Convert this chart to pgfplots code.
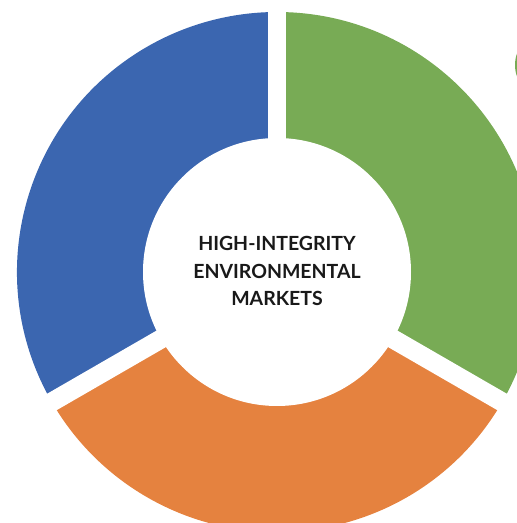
\documentclass[border=0pt]{standalone}
\usepackage{fontspec}
\setmainfont{Lato}
\usepackage{pgfplots}
\usepackage{pgfplotstable}
\pgfplotsset{compat=1.18}

\definecolor{grn}{HTML}{78AB55}
\definecolor{org}{HTML}{E5823F}
\definecolor{blu}{HTML}{3B66B0}

% shares of the ring, clockwise from the top
\pgfplotstableread{
part share
green 1
orange 1
blue 1
}\shares
\pgfplotstablegetelem{0}{share}\of\shares \let\sa\pgfplotsretval
\pgfplotstablegetelem{1}{share}\of\shares \let\sb\pgfplotsretval
\pgfplotstablegetelem{2}{share}\of\shares \let\sc\pgfplotsretval
\pgfmathsetmacro\tot{\sa+\sb+\sc}
\pgfmathsetmacro\aA{90}
\pgfmathsetmacro\aB{90-360*\sa/\tot}
\pgfmathsetmacro\aC{\aB-360*\sb/\tot}
\pgfmathsetmacro\aD{\aC-360*\sc/\tot}

\def\cx{277}\def\cy{251}
\def\R{260pt}\def\r{134pt}

\begin{document}
\begin{tikzpicture}
\begin{axis}[
    x=1pt, y=1pt,
    xmin=0, xmax=517, ymin=0, ymax=523,
    hide axis, clip=true]
  \fill[grn] (axis cs:\cx,\cy) -- ++(\aA:\R) arc[start angle=\aA, end angle=\aB, radius=\R] -- cycle;
  \fill[org] (axis cs:\cx,\cy) -- ++(\aB:\R) arc[start angle=\aB, end angle=\aC, radius=\R] -- cycle;
  \fill[blu] (axis cs:\cx,\cy) -- ++(\aC:\R) arc[start angle=\aC, end angle=\aD, radius=\R] -- cycle;
  \fill[white] (axis cs:\cx,\cy) circle[radius=\r];
  \draw[white, line width=18pt] (axis cs:\cx,\cy) -- ++(\aA:300pt);
  \draw[white, line width=19pt] (axis cs:\cx,\cy) -- ++(\aB:300pt);
  \draw[white, line width=19pt] (axis cs:\cx,\cy) -- ++(\aC:300pt);
  % edge of a neighbouring ring, just visible at the top right
  \fill[grn] (axis cs:549,458) circle[radius=34pt];
  \node[align=center, font=\fontsize{19.5}{27.5}\selectfont\bfseries, text=black!90]
    at (axis cs:\cx,252) {HIGH-INTEGRITY\\ENVIRONMENTAL\\MARKETS};
\end{axis}
\pgfresetboundingbox
\path[use as bounding box] (current axis.south west) rectangle (current axis.north east);
\end{tikzpicture}
\end{document}
